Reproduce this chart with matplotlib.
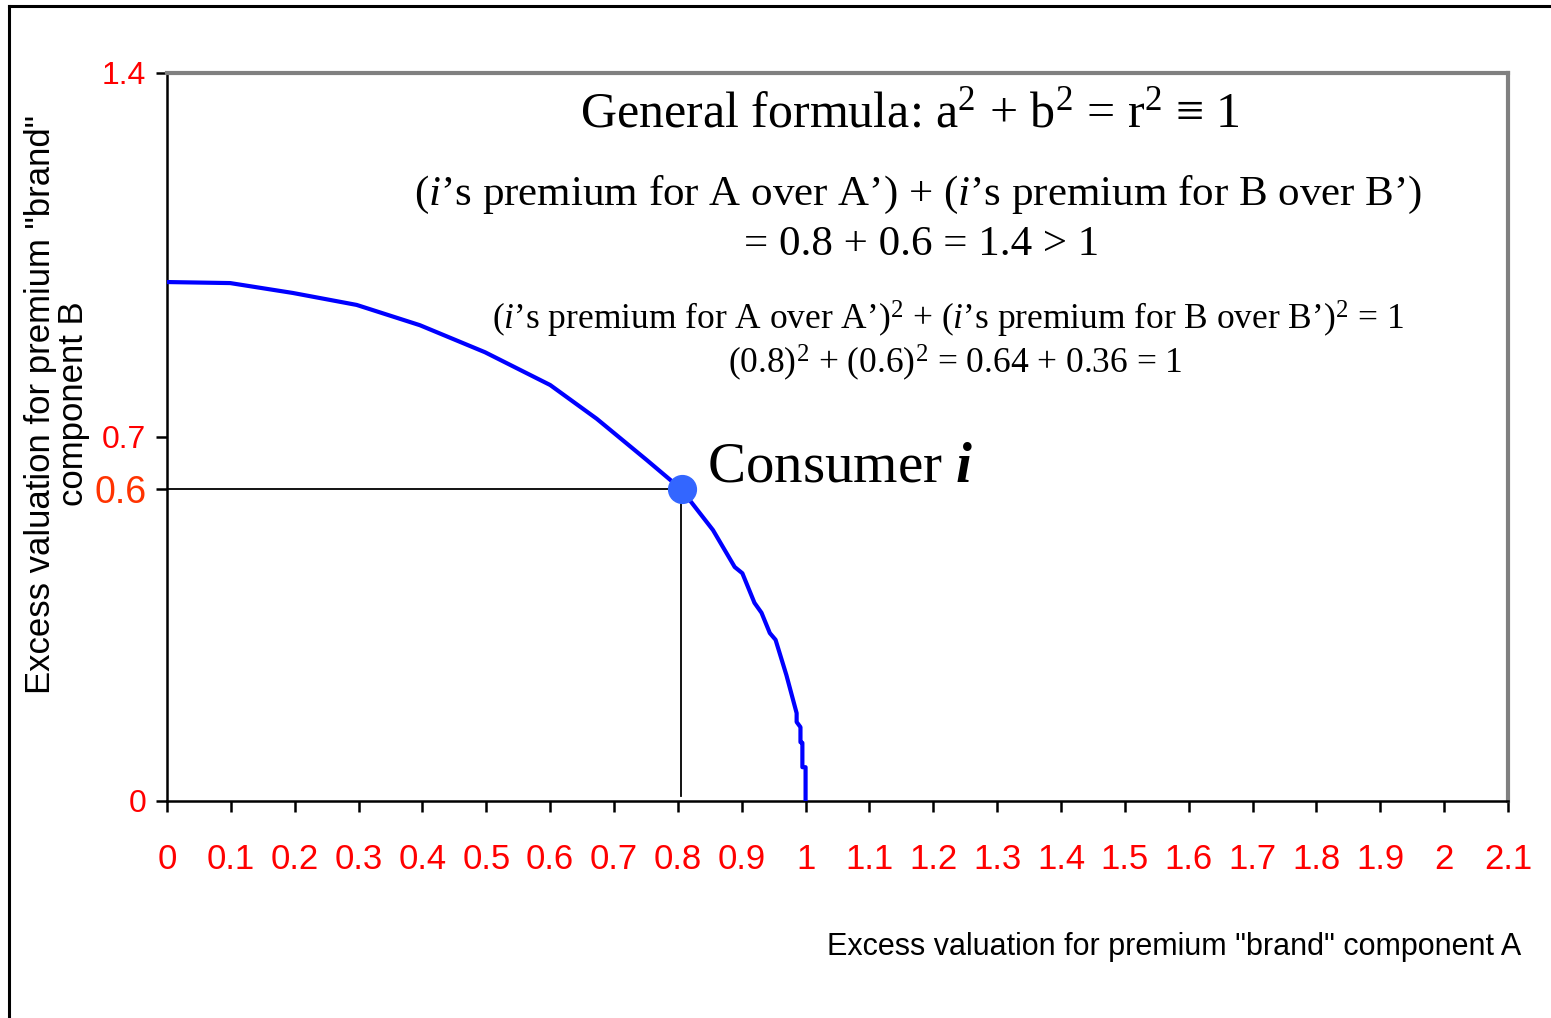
import matplotlib
matplotlib.use("Agg")
import matplotlib.pyplot as plt
from matplotlib import font_manager
from matplotlib.lines import Line2D

# 曲线数据
curve_a = [0.0, 0.099, 0.197, 0.297, 0.396, 0.498, 0.600, 0.673, 0.751, 0.805, 0.855,
           0.889, 0.901, 0.920, 0.931, 0.944, 0.953, 0.970, 0.986, 0.986, 0.992,
           0.992, 0.995, 0.995, 1.0, 1.0]
curve_b = [0.998, 0.996, 0.977, 0.954, 0.915, 0.863, 0.800, 0.735, 0.656, 0.600, 0.521,
           0.450, 0.438, 0.381, 0.362, 0.323, 0.310, 0.242, 0.169, 0.152, 0.142,
           0.113, 0.112, 0.065, 0.065, 0.0]
consumer_a, consumer_b = 0.805, 0.6
x_ticks = [round(0.1 * k, 1) for k in range(22)]
x_labels = ["0" if v == 0 else ("1" if v == 1 else ("2" if v == 2 else f"{v:g}")) for v in x_ticks]
y_ticks = [0, 0.6, 0.7, 1.4]
y_labels = ["0", "0.6", "0.7", "1.4"]

names = {f.name for f in font_manager.fontManager.ttflist}
narrow = "Liberation Sans Narrow" if "Liberation Sans Narrow" in names else "Liberation Sans"
serif = ["Liberation Serif", "DejaVu Serif"]

plt.rcParams["mathtext.fontset"] = "custom"
plt.rcParams["mathtext.rm"] = "Liberation Serif"
plt.rcParams["mathtext.it"] = "Liberation Serif:italic"
plt.rcParams["mathtext.bf"] = "Liberation Serif:bold"
plt.rcParams["mathtext.bfit"] = "Liberation Serif:italic:bold"

fig = plt.figure(figsize=(15.51, 10.18), dpi=100)
ax = fig.add_axes([167 / 1551, 1 - 801 / 1018, (1508 - 167) / 1551, (801 - 73) / 1018])
ax.set_xlim(0, 2.1)
ax.set_ylim(0, 1.4)

ax.plot(curve_a, curve_b, color="#0000FF", lw=3, zorder=3)
ax.plot([0, consumer_a], [consumer_b, consumer_b], color="black", lw=1.3, zorder=2)
ax.plot([consumer_a, consumer_a], [consumer_b, 0.01], color="black", lw=1.3, zorder=2)
ax.plot([consumer_a + 0.002], [consumer_b], "o", color="#3366FF", ms=20, zorder=4)

for s in ["left", "bottom"]:
    ax.spines[s].set_color("black")
    ax.spines[s].set_linewidth(1.8)
for s in ["top", "right"]:
    ax.spines[s].set_color("#808080")
    ax.spines[s].set_linewidth(3)

ax.set_xticks(x_ticks)
ax.set_xticklabels(x_labels, family=narrow, fontsize=25, color="#FF0000")
ax.tick_params(axis="x", length=8, width=1.8, pad=22)
ax.set_yticks(y_ticks)
ax.set_yticklabels(y_labels, family=narrow, fontsize=23, color="#FF0000")
ax.get_yticklabels()[1].set_color("#FF3300")
ax.get_yticklabels()[1].set_fontsize(27)
ax.tick_params(axis="y", length=8, width=1.8, pad=7)

def px(xp, yp):
    return (xp - 167) / 638.6, (801 - yp) / 520

ax.text(*px(910, 127), "General formula: a$^{2}$ + b$^{2}$ = r$^{2}$ \u2261 1",
        family=serif, fontsize=36, ha="center", va="baseline")
ax.text(*px(918, 205), "($\\mathit{i}$\u2019s premium for A over A\u2019) + ($\\mathit{i}$\u2019s premium for B over B\u2019)",
        family=serif, fontsize=31, ha="center", va="baseline")
ax.text(*px(922, 255), "= 0.8 + 0.6 = 1.4 > 1", family=serif, fontsize=31, ha="center", va="baseline")
ax.text(*px(948, 330), "($\\mathit{i}$\u2019s premium for A over A\u2019)$^{2}$ + ($\\mathit{i}$\u2019s premium for B over B\u2019)$^{2}$ = 1",
        family=serif, fontsize=25.5, ha="center", va="baseline")
ax.text(*px(955, 373), "(0.8)$^{2}$ + (0.6)$^{2}$ = 0.64 + 0.36 = 1",
        family=serif, fontsize=25.5, ha="center", va="baseline")
ax.text(*px(707, 482), "Consumer $\\mathbfit{i}$", family=serif, fontsize=41, ha="left", va="baseline")

fig.text(1521 / 1551, 1 - 955 / 1018, 'Excess valuation for premium "brand" component A',
         family=narrow, fontsize=22, ha="right", va="baseline")
fig.text(57 / 1551, 1 - 404 / 1018, 'Excess valuation for premium "brand"\ncomponent B',
         family="Liberation Sans", fontsize=25, rotation=90, ha="center", va="center",
         multialignment="center", linespacing=1.0)

# 外框
fig.add_artist(Line2D([9 / 1551, 9 / 1551], [0, 1 - 6 / 1018], transform=fig.transFigure, color="black", lw=2.2))
fig.add_artist(Line2D([9 / 1551, 1], [1 - 6 / 1018, 1 - 6 / 1018], transform=fig.transFigure, color="black", lw=2.2))

fig.savefig("out.png", dpi=100)
